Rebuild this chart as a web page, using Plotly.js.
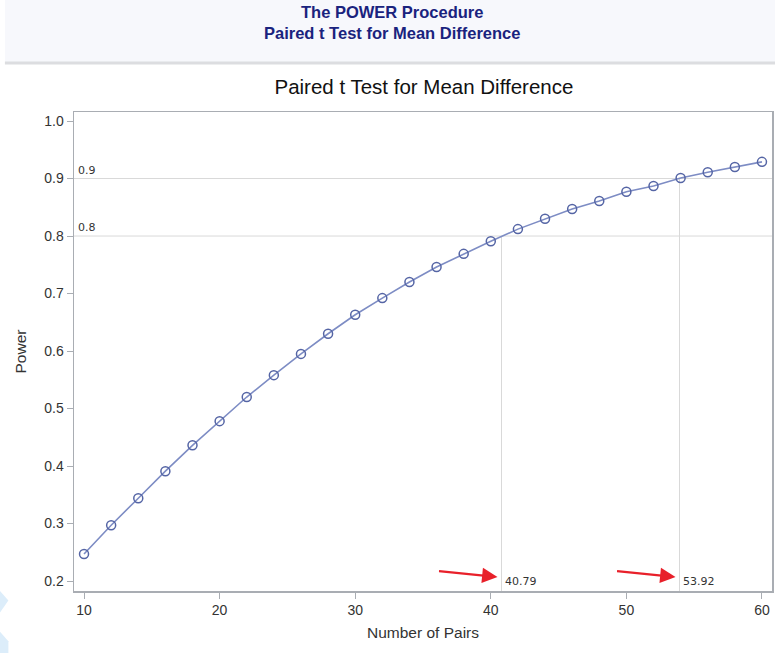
<!DOCTYPE html>
<html>
<head>
<meta charset="utf-8">
<script src="https://cdn.plot.ly/plotly-3.0.1.min.js"></script>
<style>
  html, body { margin: 0; padding: 0; background: #ffffff; }
  #chart { width: 775px; height: 653px; }
</style>
</head>
<body>
<div id="chart"></div>
<script>
// Number of pairs and the computed power at each sample size
const pairs = [10, 12, 14, 16, 18, 20, 22, 24, 26, 28, 30, 32, 34, 36, 38, 40, 42, 44, 46, 48, 50, 52, 54, 56, 58, 60];
const power = [0.247, 0.297, 0.344, 0.391, 0.436, 0.478, 0.520, 0.558, 0.595, 0.630, 0.663, 0.692, 0.720, 0.746, 0.769, 0.791,
               0.812, 0.830, 0.847, 0.861, 0.877, 0.887, 0.901, 0.911, 0.920, 0.929];

// Target power levels and the sample sizes that reach them
const targetPower = [0.8, 0.9];
const targetPairs = [40.79, 53.92];

const xTicks = [10, 20, 30, 40, 50, 60];
const yTicks = [0.2, 0.3, 0.4, 0.5, 0.6, 0.7, 0.8, 0.9, 1.0];

const headerLines = ['The POWER Procedure', 'Paired t Test for Mean Difference'];

const refColor = '#d9d9d9';
const yMin = 0.1826;
const sans = 'Liberation Sans, Arial, sans-serif';

const shapes = [
  // header band
  { type: 'rect', xref: 'paper', yref: 'paper', x0: -0.099, x1: 1.01, y0: 1.104, y1: 1.24,
    fillcolor: '#f7f8fc', line: { width: 0 }, layer: 'below' },
  { type: 'line', xref: 'paper', yref: 'paper', x0: -0.099, x1: 1.01, y0: 1.1023, y1: 1.1023,
    line: { color: '#dcdde0', width: 3 } },
  // light page decorations at the lower left
  { type: 'path', xref: 'paper', yref: 'paper',
    path: 'M -0.106 0.0 L -0.094 -0.02 L -0.106 -0.045 Z', fillcolor: '#dcedfa', line: { width: 0 } },
  { type: 'path', xref: 'paper', yref: 'paper',
    path: 'M -0.106 -0.085 L -0.094 -0.105 L -0.094 -0.13 L -0.106 -0.13 Z', fillcolor: '#dcedfa', line: { width: 0 } }
];

// procedure header, two bold lines
const annotations = [
  { xref: 'paper', yref: 'paper', x: 0.456, y: 1.1869, xanchor: 'center', yanchor: 'middle',
    showarrow: false, align: 'center',
    text: headerLines.map(t => '<b>' + t + '</b>').join('<br>'),
    font: { family: sans, size: 16.5, color: '#1a237e' } }
];

targetPower.forEach((p, i) => {
  const n = targetPairs[i];
  shapes.push({ type: 'line', xref: 'paper', yref: 'y', x0: 0, x1: 1, y0: p, y1: p,
                line: { color: refColor, width: 1 }, layer: 'below' });
  shapes.push({ type: 'line', xref: 'x', yref: 'y', x0: n, x1: n, y0: yMin, y1: p,
                line: { color: refColor, width: 1 }, layer: 'below' });
  annotations.push({ xref: 'paper', yref: 'y', x: 0, y: p, xanchor: 'left', yanchor: 'bottom',
                     xshift: 2, showarrow: false, text: p.toFixed(1),
                     font: { family: 'DejaVu Sans, sans-serif', size: 11, color: '#333333' } });
  annotations.push({ xref: 'x', yref: 'y', x: n, y: yMin, xanchor: 'left', yanchor: 'bottom',
                     xshift: 1, yshift: 1, showarrow: false, text: n.toFixed(2),
                     font: { family: 'DejaVu Sans, sans-serif', size: 11, color: '#333333' } });
  // red pointer toward each sample-size label
  annotations.push({ xref: 'x', yref: 'y', x: n, y: 0.207, xshift: -4, showarrow: true, text: '',
                     ax: -60, ay: -6, arrowcolor: '#e8202a', arrowwidth: 2.2, arrowhead: 2, arrowsize: 1.4 });
});

const trace = {
  x: pairs, y: power, type: 'scatter', mode: 'lines+markers',
  line: { color: '#7d8cc4', width: 1.6 },
  marker: { symbol: 'circle-open', size: 9, color: '#5565a5', line: { width: 1.5, color: '#5565a5' } },
  hoverinfo: 'x+y'
};

const tickFont = { family: sans, size: 14, color: '#333333' };
const labelFont = { family: sans, size: 15.5, color: '#333333' };

const layout = {
  width: 775, height: 653,
  margin: { l: 74, r: 3, t: 112, b: 62 },
  paper_bgcolor: '#ffffff', plot_bgcolor: '#ffffff',
  showlegend: false,
  title: { text: 'Paired t Test for Mean Difference', x: 0.547, xanchor: 'center', y: 0.867, yanchor: 'middle',
           font: { family: sans, size: 20.5, color: '#111111' } },
  xaxis: {
    range: [9.26, 60.74], tickvals: xTicks, ticktext: xTicks.map(String),
    showgrid: false, zeroline: false, showline: true, mirror: true, linecolor: '#a9adb3', linewidth: 1.5,
    ticks: 'outside', ticklen: 6, tickcolor: '#a9adb3', tickfont: tickFont,
    title: { text: 'Number of Pairs', font: labelFont, standoff: 10 }
  },
  yaxis: {
    range: [yMin, 1.0157], tickvals: yTicks, ticktext: yTicks.map(v => v.toFixed(1)),
    showgrid: false, zeroline: false, showline: true, mirror: true, linecolor: '#a9adb3', linewidth: 1.5,
    ticks: 'outside', ticklen: 6, tickcolor: '#a9adb3', tickfont: tickFont,
    title: { text: 'Power', font: labelFont, standoff: 14 }
  },
  shapes: shapes,
  annotations: annotations
};

Plotly.newPlot('chart', [trace], layout, { displayModeBar: false, staticPlot: true });
</script>
</body>
</html>
